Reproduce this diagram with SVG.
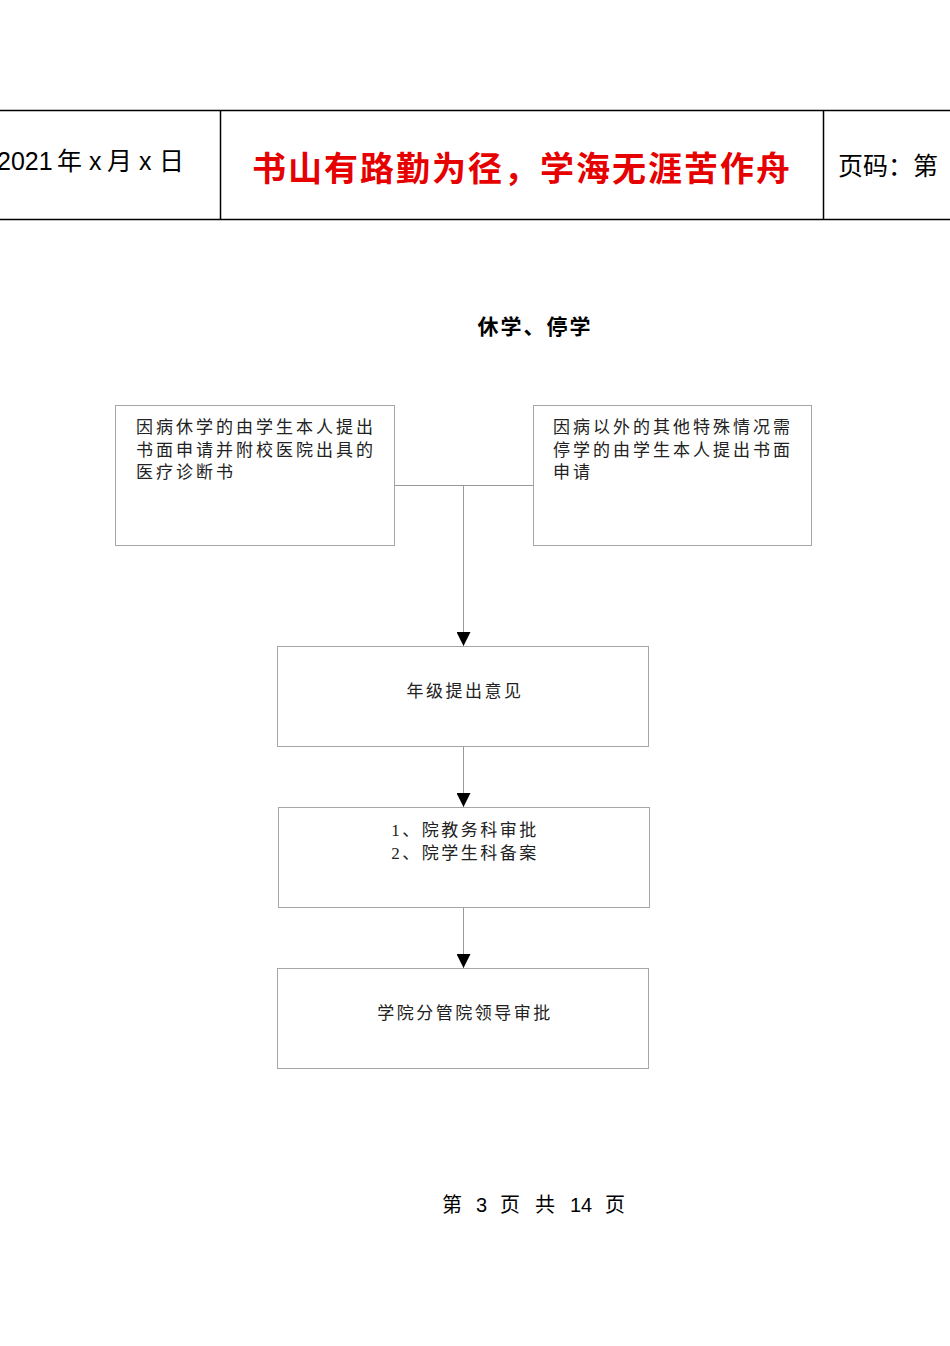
<svg xmlns="http://www.w3.org/2000/svg" width="950" height="1346" viewBox="0 0 950 1346">
<style>
.hdr{stroke:#000;stroke-width:1.5;fill:none}
.box{fill:#fff;stroke:#a6a6a6;stroke-width:1}
.con{stroke:#999;stroke-width:1;fill:none}
.t{font-family:"Liberation Serif","Noto Sans CJK SC",serif;font-size:17px;fill:#222;letter-spacing:3px}
.tc{font-family:"Liberation Serif","Noto Sans CJK SC",serif;font-size:17px;fill:#222;letter-spacing:2.5px;text-anchor:middle}
.h{font-family:"Liberation Sans","Noto Sans CJK SC",sans-serif;font-size:25px;fill:#000}
.f{font-family:"Liberation Sans","Noto Sans CJK SC",sans-serif;font-size:20px;fill:#000}
</style>
<defs>
<marker id="arr" markerWidth="14" markerHeight="14" refX="14" refY="7" orient="auto" markerUnits="userSpaceOnUse">
<path d="M0,0 L14,7 L0,14 Z" fill="#000"/>
</marker>
</defs>
<rect width="950" height="1346" fill="#fff"/>
<g id="header">
<line class="hdr" x1="0" y1="110.5" x2="950" y2="110.5"/>
<line class="hdr" x1="0" y1="219.5" x2="950" y2="219.5"/>
<line class="hdr" x1="220.5" y1="110" x2="220.5" y2="220"/>
<line class="hdr" x1="823.5" y1="110" x2="823.5" y2="220"/>
<text class="h" y="170"><tspan x="-3">2021</tspan><tspan x="57">年</tspan><tspan x="89">x</tspan><tspan x="107">月</tspan><tspan x="139">x</tspan><tspan x="159">日</tspan></text>
<text x="522" y="181" text-anchor="middle" font-family="'Noto Sans CJK SC',sans-serif" font-size="34" font-weight="bold" fill="#e60000" letter-spacing="2">书山有路勤为径，学海无涯苦作舟</text>
<text class="h" x="838" y="175">页码：第</text>
</g>
<g id="title">
<text x="535" y="334" text-anchor="middle" font-family="'Noto Sans CJK SC',sans-serif" font-size="21" font-weight="bold" fill="#000" letter-spacing="2">休学、停学</text>
</g>
<g id="connectors">
<path class="con" d="M394,485.5 H533"/>
<path class="con" d="M463.5,485 V646" marker-end="url(#arr)"/>
<path class="con" d="M463.5,746 V807" marker-end="url(#arr)"/>
<path class="con" d="M463.5,907 V968" marker-end="url(#arr)"/>
</g>
<g id="n1">
<rect class="box" x="115.5" y="405.5" width="279" height="140"/>
<text class="t" x="136" y="433">因病休学的由学生本人提出</text>
<text class="t" x="136" y="456">书面申请并附校医院出具的</text>
<text class="t" x="136" y="478">医疗诊断书</text>
</g>
<g id="n2">
<rect class="box" x="533.5" y="405.5" width="278" height="140"/>
<text class="t" x="553" y="433">因病以外的其他特殊情况需</text>
<text class="t" x="553" y="456">停学的由学生本人提出书面</text>
<text class="t" x="553" y="478">申请</text>
</g>
<g id="n3">
<rect class="box" x="277.5" y="646.5" width="371" height="100"/>
<text class="tc" x="465" y="697">年级提出意见</text>
</g>
<g id="n4">
<rect class="box" x="278.5" y="807.5" width="371" height="100"/>
<text class="tc" x="465" y="836">1、院教务科审批</text>
<text class="tc" x="465" y="859">2、院学生科备案</text>
</g>
<g id="n5">
<rect class="box" x="277.5" y="968.5" width="371" height="100"/>
<text class="tc" x="465" y="1019">学院分管院领导审批</text>
</g>
<g id="footer">
<text class="f" y="1212"><tspan x="442">第</tspan><tspan x="476">3</tspan><tspan x="500">页</tspan><tspan x="535">共</tspan><tspan x="570">14</tspan><tspan x="605">页</tspan></text>
</g>
</svg>
